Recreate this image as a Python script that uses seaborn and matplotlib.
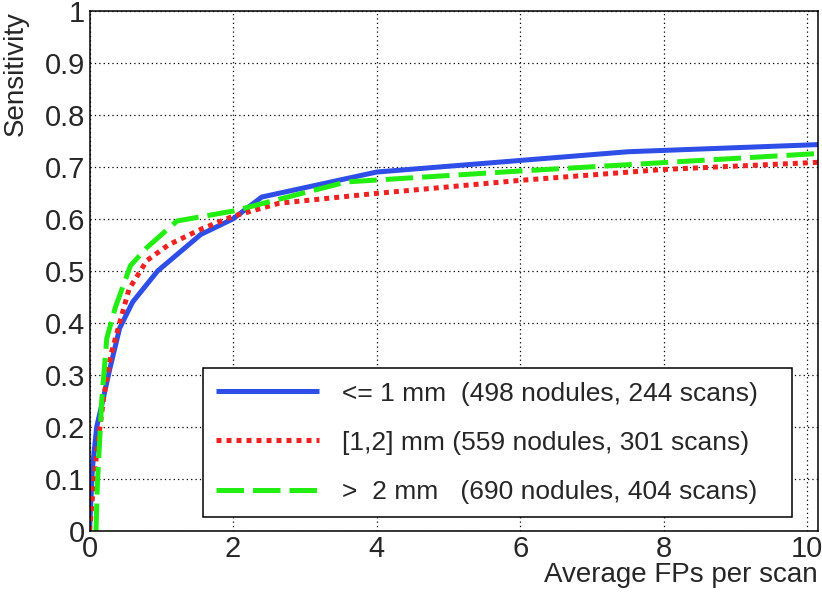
import matplotlib
matplotlib.use("Agg")
import matplotlib.pyplot as plt
from matplotlib.ticker import MultipleLocator
import seaborn as sns

# curve points (FROC style)
blue_x = [0, 0.04, 0.1, 0.2, 0.28, 0.42, 0.6, 0.95, 1.55, 2.0, 2.4, 4.0, 7.5, 10.2]
blue_y = [0, 0.12, 0.2, 0.26, 0.31, 0.39, 0.44, 0.50, 0.57, 0.60, 0.642, 0.69, 0.729, 0.743]

red_x = [0, 0.05, 0.1, 0.2, 0.3, 0.4, 0.55, 0.8, 1.1, 1.55, 2.0, 2.64, 4.0, 6.0, 8.0, 10.2]
red_y = [0, 0.08, 0.15, 0.26, 0.34, 0.39, 0.465, 0.52, 0.55, 0.58, 0.605, 0.63, 0.649, 0.674, 0.695, 0.709]

green_x = [0.09, 0.11, 0.17, 0.24, 0.36, 0.57, 0.8, 1.22, 2.0, 3.58, 6.0, 10.2]
green_y = [0, 0.09, 0.25, 0.37, 0.43, 0.51, 0.545, 0.596, 0.615, 0.671, 0.692, 0.726]

labels = ["<= 1 mm  (498 nodules, 244 scans)",
          "[1,2] mm (559 nodules, 301 scans)",
          ">  2 mm   (690 nodules, 404 scans)"]
colors = ["#2f4ee8", "#ee2222", "#22ee11"]
styles = ["-", (0, (1, 1)), (0, (5.5, 1.8))]

xticks = [0, 2, 4, 6, 8, 10]
xtick_labels = ["0", "2", "4", "6", "8", "10"]
yticks = [0, 0.1, 0.2, 0.3, 0.4, 0.5, 0.6, 0.7, 0.8, 0.9, 1]
ytick_labels = ["0", "0.1", "0.2", "0.3", "0.4", "0.5", "0.6", "0.7", "0.8", "0.9", "1"]

sns.set_style("white")
plt.rcParams["font.family"] = ["Liberation Sans", "DejaVu Sans"]

fig = plt.figure(figsize=(8.22, 5.98), dpi=100)
ax = fig.add_axes([0.1089, 0.112, 0.8863, 0.870])

series = [(blue_x, blue_y), (red_x, red_y), (green_x, green_y)]
for (xs, ys), lab, col, ls in zip(series, labels, colors, styles):
    sns.lineplot(x=xs, y=ys, ax=ax, color=col, linestyle=ls, linewidth=3.6,
                 label=lab, estimator=None, sort=False, solid_capstyle="butt",
                 dash_capstyle="butt")

ax.set_xlim(0, 10.15)
ax.set_ylim(0, 1)
ax.set_xticks(xticks)
ax.set_xticklabels(xtick_labels)
ax.set_yticks(yticks)
ax.set_yticklabels(ytick_labels)
ax.xaxis.set_minor_locator(MultipleLocator(0.5))
ax.yaxis.set_minor_locator(MultipleLocator(0.02))

ax.tick_params(axis="both", which="both", direction="in", color="black",
               labelsize=21, top=False, right=False)
ax.tick_params(axis="y", which="major", length=14, width=1, pad=3)
ax.tick_params(axis="y", which="minor", length=7.7, width=1)
ax.tick_params(axis="x", which="major", length=9, width=1, pad=3)
ax.tick_params(axis="x", which="minor", length=5, width=1)

ax.grid(True, which="major", color="black", linestyle=(0, (1, 2.5)), linewidth=0.9)
for sp in ax.spines.values():
    sp.set_color("black")
    sp.set_linewidth(1.1)

ax.set_xlabel("Average FPs per scan", fontsize=20, loc="right")
ax.xaxis.set_label_coords(1.0, -0.06)
ax.set_ylabel("Sensitivity", fontsize=20, loc="top")
ax.yaxis.set_label_coords(-0.084, 1.0)

leg = ax.legend(loc="lower left", bbox_to_anchor=(0.156, 0.027, 0.808, 0.286),
                mode="expand", borderaxespad=0, fontsize=19, frameon=True,
                fancybox=False, framealpha=1, edgecolor="black",
                handlelength=3.9, handletextpad=0.87, labelspacing=0.95,
                borderpad=0.5)
leg.get_frame().set_linewidth(1.1)

fig.savefig("out.png", dpi=100)
